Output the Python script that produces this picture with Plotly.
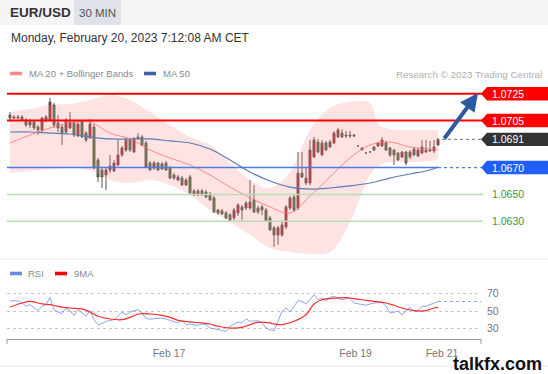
import plotly.graph_objects as go

# ---------------- data ----------------
opens = [1.07091,1.07077,1.07069,1.07077,1.07054,1.07017,1.07039,1.07002,1.06980,1.07047,
         1.07054,1.07166,1.07032,1.07002,1.06965,1.06995,1.07032,1.06935,1.07039,1.06957,
         1.06920,1.07002,1.06756,1.06682,1.06645,1.06682,1.06674,1.06719,1.06794,1.06831,
         1.06905,1.06816,1.06928,1.06928,1.06883,1.06734,1.06697,1.06734,1.06727,1.06734,
         1.06697,1.06645,1.06607,1.06622,1.06570,1.06630,1.06526,1.06496,1.06526,1.06518,
         1.06503,1.06474,1.06384,1.06377,1.06362,1.06347,1.06325,1.06362,1.06407,1.06399,
         1.06399,1.06459,1.06399,1.06384,1.06384,1.06325,1.06251,1.06198,1.06198,1.06258,
         1.06399,1.06481,1.06399,1.06659,1.06585,1.06585,1.06779,1.06890,1.06794,1.06883,
         1.06853,1.06883,1.06928,1.06957,1.06942,1.06935,1.06942,1.06861,1.06831,1.06808,
         1.06816,1.06831,1.06861,1.06861,1.06883,1.06846,1.06831,1.06808,1.06779,1.06816,
         1.06779,1.06838,1.06786,1.06808,1.06831,1.06823,1.06823,1.06868]
highs = [1.07114,1.07091,1.07091,1.07091,1.07069,1.07062,1.07047,1.07017,1.07077,1.07091,
         1.07218,1.07181,1.07091,1.07017,1.07069,1.07114,1.07047,1.07039,1.07054,1.06972,
         1.07062,1.07024,1.06771,1.06697,1.06697,1.06794,1.06756,1.06905,1.06861,1.06920,
         1.06920,1.06928,1.06957,1.06942,1.06898,1.06749,1.06749,1.06741,1.06741,1.06749,
         1.06712,1.06659,1.06645,1.06637,1.06622,1.06645,1.06540,1.06540,1.06540,1.06533,
         1.06518,1.06488,1.06392,1.06392,1.06377,1.06362,1.06399,1.06436,1.06421,1.06451,
         1.06607,1.06570,1.06414,1.06421,1.06399,1.06340,1.06266,1.06266,1.06295,1.06421,
         1.06488,1.06496,1.06816,1.06816,1.06697,1.06905,1.06928,1.06913,1.06905,1.06898,
         1.06905,1.06972,1.06995,1.06987,1.06972,1.06972,1.06950,1.06861,1.06853,1.06808,
         1.06816,1.06861,1.06890,1.06928,1.06898,1.06853,1.06838,1.06816,1.06823,1.06823,
         1.06831,1.06853,1.06846,1.06905,1.06905,1.06898,1.06905,1.06920]
lows  = [1.07054,1.07062,1.07062,1.07047,1.07002,1.06995,1.06980,1.06942,1.06965,1.07039,
         1.07047,1.06995,1.06965,1.06868,1.06950,1.06987,1.06928,1.06928,1.06920,1.06890,
         1.06913,1.06689,1.06593,1.06548,1.06533,1.06659,1.06667,1.06712,1.06779,1.06816,
         1.06816,1.06808,1.06905,1.06861,1.06697,1.06674,1.06682,1.06674,1.06682,1.06674,
         1.06615,1.06607,1.06600,1.06563,1.06563,1.06503,1.06488,1.06488,1.06488,1.06474,
         1.06451,1.06362,1.06347,1.06347,1.06317,1.06303,1.06310,1.06340,1.06310,1.06384,
         1.06384,1.06362,1.06355,1.06347,1.06295,1.06228,1.06109,1.06124,1.06184,1.06243,
         1.06384,1.06369,1.06384,1.06622,1.06570,1.06570,1.06771,1.06808,1.06786,1.06823,
         1.06846,1.06875,1.06920,1.06920,1.06920,1.06920,1.06928,1.06861,1.06831,1.06808,
         1.06816,1.06823,1.06853,1.06853,1.06823,1.06779,1.06719,1.06749,1.06771,1.06719,
         1.06764,1.06786,1.06779,1.06801,1.06808,1.06816,1.06808,1.06861]
closes = [1.07069,1.07069,1.07077,1.07054,1.07017,1.07039,1.06995,1.06980,1.07069,1.07077,
          1.07188,1.07017,1.06995,1.06957,1.07054,1.07039,1.06942,1.07024,1.06928,1.06905,
          1.07024,1.06697,1.06630,1.06630,1.06682,1.06712,1.06734,1.06794,1.06846,1.06905,
          1.06831,1.06913,1.06920,1.06868,1.06704,1.06682,1.06734,1.06682,1.06689,1.06682,
          1.06622,1.06622,1.06630,1.06570,1.06607,1.06511,1.06496,1.06526,1.06496,1.06481,
          1.06459,1.06369,1.06362,1.06355,1.06325,1.06310,1.06384,1.06421,1.06384,1.06436,
          1.06444,1.06369,1.06369,1.06407,1.06303,1.06236,1.06198,1.06251,1.06273,1.06407,
          1.06474,1.06384,1.06659,1.06630,1.06622,1.06831,1.06905,1.06816,1.06883,1.06831,
          1.06890,1.06957,1.06980,1.06928,1.06935,1.06942,1.06935,1.06861,1.06846,1.06808,
          1.06816,1.06853,1.06883,1.06905,1.06831,1.06794,1.06794,1.06756,1.06816,1.06734,
          1.06816,1.06794,1.06831,1.06853,1.06816,1.06831,1.06853,1.06910]

band_idx = [0,5,10,15,20,25,30,35,40,45,50,55,60,65,70,75,80,85,90,92,95,100,105,107]
bb_upper = [1.07114,1.07136,1.07166,1.07173,1.07203,1.07240,1.07203,1.07114,1.07017,1.06928,
            1.06868,1.06734,1.06607,1.06548,1.06667,1.06980,1.07144,1.07188,1.07181,1.07024,
            1.06987,1.06980,1.06980,1.06980]
bb_lower = [1.06659,1.06674,1.06689,1.06697,1.06682,1.06607,1.06585,1.06607,1.06570,1.06496,
            1.06384,1.06295,1.06198,1.06101,1.06071,1.06057,1.06071,1.06295,1.06645,1.06712,
            1.06741,1.06741,1.06749,1.06756]

ma_idx = [0,5,10,15,20,25,30,35,40,45,50,55,60,65,70,75,80,85,90,95,100,105,107]
ma20 = [1.06883,1.06942,1.06995,1.07032,1.07039,1.06957,1.06913,1.06831,1.06771,1.06719,
        1.06645,1.06555,1.06474,1.06407,1.06362,1.06488,1.06630,1.06771,1.06868,1.06890,
        1.06853,1.06838,1.06831]
ma50 = [1.06965,1.06965,1.06957,1.06950,1.06928,1.06913,1.06913,1.06913,1.06898,1.06883,
        1.06838,1.06756,1.06667,1.06600,1.06555,1.06540,1.06548,1.06563,1.06585,1.06622,
        1.06652,1.06682,1.06704]

rsi_idx = [0,2,3,4,5,7,8,9,10,11,12,13,14,15,16,17,18,19,20,21,22,23,24,26,27,28,29,30,31,32,
           33,34,35,37,38,39,41,42,43,44,45,47,48,49,50,52,53,54,55,57,58,59,60,62,63,64,65,66,
           67,68,69,70,72,73,74,75,76,77,78,79,80,81,82,83,84,85,86,88,89,90,91,93,94,95,96,97,
           98,99,100,101,102,103,104,105,107]
rsi_val = [62,62,59.5,55.7,57.6,50.7,55.7,57.6,66,51.9,49.2,47.3,53.8,50.7,45.4,51.9,48.1,44.3,
           50.7,40.4,34.7,35.9,38.6,40.4,44.3,49.2,46.1,49.2,50.7,51.9,48.1,41.6,41.2,41.6,42.3,
           41.2,38.6,36.7,39.7,34.7,35.5,34,35.5,34.7,30.9,29,28.6,27.1,32.9,37.8,36.7,41.6,38.6,
           39.3,36.7,30.9,29,27.9,38.6,50,53.8,49.2,62.1,61.3,58.4,63.2,68.6,63.2,65,62.1,66,67.1,
           65,63.2,64.4,65,59.5,57.6,56.9,58.4,59.5,60.2,55.7,48.1,49.2,50,46.1,50.7,54.6,50,50.7,
           55.7,55.7,57.6,61.2]
ma9_idx = [0,3,5,8,10,12,15,18,20,22,25,28,30,32,35,38,40,42,45,48,50,52,55,58,60,62,65,66,68,
           71,74,76,78,81,84,86,88,91,94,96,98,101,104,106,107]
ma9_val = [54.9,59.5,61.4,58.4,57.6,55.7,53.8,52.7,49.2,44.3,41.2,40.4,43.1,46.9,46.9,45.4,43.1,
           39.7,37.8,36.7,35.5,32.9,30.9,31.6,34.7,37.4,36.7,35.5,34.7,38.6,46.1,58.4,63.2,65,
           65.7,64.4,63.2,61.3,59.5,56.9,53.8,50.7,50.7,53.8,54.6]

levels = [1.0725, 1.0705, 1.0691, 1.0670, 1.0650, 1.0630]
level_labels = ["1.0725", "1.0705", "1.0691", "1.0670", "1.0650", "1.0630"]
target = 1.07255

tick_pos = [39.75, 86.4, 108]
tick_text = ["Feb 17", "Feb 19", "Feb 21"]
rsi_ticks = [30, 50, 70]

# ---------------- styling ----------------
W, H = 548, 374
FONT = "Liberation Sans, Arial, sans-serif"
x_range = [-0.75, 117.75]
px = lambda v: v / W
py = lambda v: (H - v) / H

idx = list(range(len(closes)))
last = idx[-1]

fig = go.Figure()

# Bollinger band
fig.add_trace(go.Scatter(x=band_idx, y=bb_upper, mode="lines", line=dict(width=0, shape="spline"),
                         hoverinfo="skip", showlegend=False, xaxis="x", yaxis="y"))
fig.add_trace(go.Scatter(x=band_idx, y=bb_lower, mode="lines", line=dict(width=0, shape="spline"),
                         fill="tonexty", fillcolor="rgba(255,140,140,0.25)",
                         hoverinfo="skip", showlegend=False, xaxis="x", yaxis="y"))
fig.add_trace(go.Scatter(x=ma_idx, y=ma50, mode="lines",
                         line=dict(color="#5a7db5", width=1.2, shape="spline"),
                         showlegend=False, xaxis="x", yaxis="y"))
fig.add_trace(go.Scatter(x=ma_idx, y=ma20, mode="lines",
                         line=dict(color="rgba(250,110,110,0.75)", width=1, shape="spline"),
                         showlegend=False, xaxis="x", yaxis="y"))
fig.add_trace(go.Candlestick(x=idx, open=opens, high=highs, low=lows, close=closes,
                             increasing=dict(fillcolor="#e3000f", line=dict(color="#555555", width=1)),
                             decreasing=dict(fillcolor="#248a24", line=dict(color="#555555", width=1)),
                             whiskerwidth=0, showlegend=False, xaxis="x", yaxis="y"))

# RSI
fig.add_trace(go.Scatter(x=rsi_idx, y=rsi_val, mode="lines",
                         line=dict(color="rgba(110,145,235,0.8)", width=1),
                         showlegend=False, xaxis="x2", yaxis="y2"))
fig.add_trace(go.Scatter(x=ma9_idx, y=ma9_val, mode="lines",
                         line=dict(color="#ff2a2a", width=1.2, shape="spline"),
                         showlegend=False, xaxis="x2", yaxis="y2"))

shapes = []
# header
shapes.append(dict(type="rect", xref="paper", yref="paper", x0=0, x1=1, y0=py(25), y1=1,
                   fillcolor="#f4f4f4", line=dict(width=0), layer="below"))
shapes.append(dict(type="rect", xref="paper", yref="paper", x0=px(74), x1=px(121), y0=py(25), y1=1,
                   fillcolor="#dfe2e8", line=dict(width=0), layer="below"))
# separators
for yy in (259, 366):
    shapes.append(dict(type="line", xref="paper", yref="paper", x0=0, x1=1, y0=py(yy), y1=py(yy),
                       line=dict(color="#e8e8e8", width=1)))
# legend swatches
for (x0, x1, yy, col) in [(10, 22, 73.5, "#ff8a8a"), (144, 156, 73.5, "#3d62a8"),
                          (10, 22, 273.5, "#6a8ee8"), (55, 67, 273.5, "#ff0000")]:
    shapes.append(dict(type="rect", xref="paper", yref="paper", x0=px(x0), x1=px(x1),
                       y0=py(yy + 1.8), y1=py(yy - 1.8), fillcolor=col, line=dict(width=0)))

line_style = {
    "1.0725": dict(color="#ff0000", width=2),
    "1.0705": dict(color="#ff0000", width=2),
    "1.0650": dict(color="#b9dcb3", width=1.5),
    "1.0630": dict(color="#b9dcb3", width=1.5),
}
for lv, lab in zip(levels, level_labels):
    if lab in line_style:
        shapes.append(dict(type="line", xref="paper", yref="y", x0=px(7), x1=px(483), y0=lv, y1=lv,
                           line=line_style[lab], layer="above"))
# 1.0670 support: solid then dotted extension
shapes.append(dict(type="line", xref="x", yref="y", x0=x_range[0], x1=last, y0=levels[3], y1=levels[3],
                   line=dict(color="#4a7be8", width=1.5), layer="above"))
shapes.append(dict(type="line", xref="x", yref="y", x0=last, x1=x_range[1], y0=levels[3], y1=levels[3],
                   line=dict(color="#4a7be8", width=1.2, dash="dot"), layer="above"))
# last price dotted
shapes.append(dict(type="line", xref="x", yref="y", x0=last + 1, x1=x_range[1], y0=levels[2], y1=levels[2],
                   line=dict(color="#777777", width=1, dash="dot"), layer="above"))
# RSI last dotted
shapes.append(dict(type="line", xref="x2", yref="y2", x0=rsi_idx[-1], x1=x_range[1],
                   y0=rsi_val[-1], y1=rsi_val[-1],
                   line=dict(color="rgba(110,145,235,0.8)", width=1, dash="dot")))
# RSI axis bracket ends
for xx in (7, 481):
    shapes.append(dict(type="line", xref="paper", yref="paper", x0=px(xx), x1=px(xx),
                       y0=py(339), y1=py(344), line=dict(color="#999999", width=1)))

# label boxes
box_cols = {"1.0725": "#ff0000", "1.0705": "#ff0000", "1.0691": "#333333", "1.0670": "#1f5fff"}
hh = 0.0005
for lv, lab in zip(levels, level_labels):
    if lab in box_cols:
        path = (f"M {px(481)},{lv} L {px(487)},{lv + hh} L 1,{lv + hh} "
                f"L 1,{lv - hh} L {px(487)},{lv - hh} Z")
        shapes.append(dict(type="path", xref="paper", yref="y", path=path,
                           fillcolor=box_cols[lab], line=dict(width=0), layer="above"))

annotations = []
def txt(x, y, s, size, color, anchor="left", bold=False, yref="paper"):
    annotations.append(dict(x=x, y=y, xref="paper", yref=yref, text=f"<b>{s}</b>" if bold else s,
                            showarrow=False, xanchor=anchor, yanchor="middle",
                            font=dict(family=FONT, size=size, color=color)))

txt(px(8), py(12.5), "EUR/USD", 13.5, "#333333", bold=True)
txt(px(97.5), py(12.5), "30 MIN", 11.5, "#555555", anchor="center")
txt(px(9), py(38.5), "Monday, February 20, 2023 7:12:08 AM CET", 12, "#333333")
txt(px(27), py(73.5), "MA 20 + Bollinger Bands", 9.5, "#8a8a8a")
txt(px(161), py(73.5), "MA 50", 9.5, "#8a8a8a")
txt(px(544), py(74), "Research © 2023 Trading Central", 9.8, "#b0b0b0", anchor="right")
txt(px(26), py(273.5), "RSI", 9.5, "#8a8a8a")
txt(px(72), py(273.5), "9MA", 9.5, "#8a8a8a")
txt(px(544), py(363.5), "talkfx.com", 18, "#111111", anchor="right", bold=True)

for lv, lab in zip(levels, level_labels):
    col = "#ffffff" if lab in box_cols else "#3a9a3a"
    txt(px(489.5), lv, lab, 10.5, col, yref="y")

# target arrow
annotations.append(dict(x=117, y=target, ax=last + 1.3, ay=levels[2] - 0.00005,
                        xref="x", yref="y", axref="x", ayref="y", text="", showarrow=True,
                        arrowhead=2, arrowsize=0.9, arrowwidth=4, arrowcolor="#2c5aa0", standoff=0))

# price axis range from pixel layout
top_px, bot_px = 84, 256
y_top = levels[0] + (93.7 - top_px) / 13430
y_bot = levels[0] - (bot_px - 93.7) / 13430

fig.update_layout(
    width=W, height=H, margin=dict(l=0, r=0, t=0, b=0),
    paper_bgcolor="white", plot_bgcolor="white",
    font=dict(family=FONT),
    shapes=shapes, annotations=annotations,
    xaxis=dict(domain=[px(7), px(481)], range=x_range, visible=False, rangeslider=dict(visible=False),
               fixedrange=True),
    yaxis=dict(domain=[py(bot_px), py(top_px)], range=[y_bot, y_top], visible=False),
    xaxis2=dict(domain=[px(7), px(481)], range=x_range, anchor="y2", showgrid=False, zeroline=False,
                showline=True, linecolor="#999999", linewidth=1,
                tickvals=tick_pos, ticktext=tick_text, ticks="outside", ticklen=4,
                tickcolor="rgba(0,0,0,0)", tickfont=dict(size=10.5, color="#777777", family=FONT)),
    yaxis2=dict(domain=[py(339), py(285)], range=[18.34, 80.06], anchor="x2", side="right",
                tickvals=rsi_ticks, showgrid=True, gridcolor="#c8c8c8", griddash="dot", gridwidth=1,
                zeroline=False, showline=False, ticks="", ticklabelstandoff=5,
                tickfont=dict(size=10.5, color="#777777", family=FONT)),
    showlegend=False,
)

fig.write_html("out.html", config={"displayModeBar": False},
               post_script="document.body.style.margin='0px';document.body.style.overflow='hidden';")
